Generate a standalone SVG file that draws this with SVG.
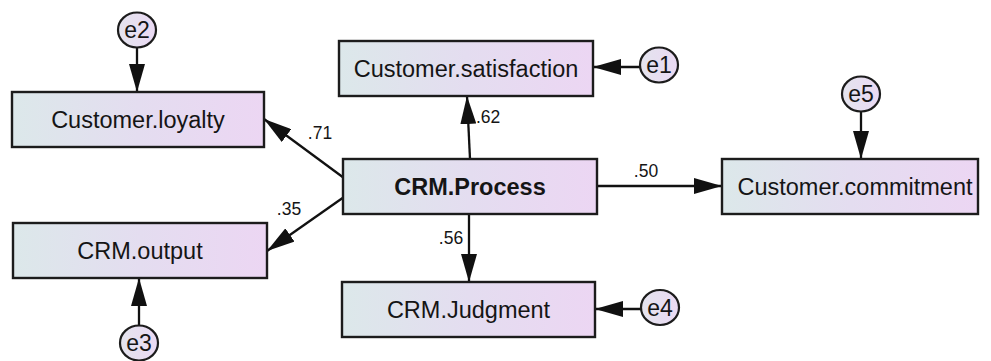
<svg xmlns="http://www.w3.org/2000/svg" width="991" height="361" viewBox="0 0 991 361">
  <defs>
    <linearGradient id="boxFill" x1="0" y1="0" x2="1" y2="0">
      <stop offset="0" stop-color="#dce8ea"/>
      <stop offset="0.5" stop-color="#e4ddf0"/>
      <stop offset="1" stop-color="#ecd6f3"/>
    </linearGradient>
    <linearGradient id="errFill" x1="0" y1="0" x2="1" y2="0">
      <stop offset="0" stop-color="#e4e4ee"/>
      <stop offset="1" stop-color="#ead9f3"/>
    </linearGradient>
    <marker id="head" viewBox="0 0 28 16" refX="28" refY="8" markerWidth="28" markerHeight="16" markerUnits="userSpaceOnUse" orient="auto">
      <path d="M0,0 L28,8 L0,16 Z" fill="#111"/>
    </marker>
  </defs>
  <style>
    .box { fill: url(#boxFill); stroke: #1c1c1c; stroke-width: 2.4; }
    .err { fill: url(#errFill); stroke: #1c1c1c; stroke-width: 2.2; }
    .lbl { font-family: "Liberation Sans", Arial, sans-serif; font-size: 23.5px; fill: #151515; text-anchor: middle; }
    .bold { font-weight: bold; }
    .elbl { font-family: "Liberation Sans", Arial, sans-serif; font-size: 23px; fill: #151515; text-anchor: middle; }
    .coef { font-family: "Liberation Sans", Arial, sans-serif; font-size: 17.5px; fill: #151515; }
    .edge { stroke: #111; stroke-width: 2.3; fill: none; marker-end: url(#head); }
  </style>
  <rect width="991" height="361" fill="#ffffff"/>

  <!-- paths and residual arrows -->
  <g id="connectors">
    <line class="edge" x1="137" y1="48" x2="137" y2="92"/>
    <line class="edge" x1="344" y1="178" x2="264" y2="119"/>
    <line class="edge" x1="344" y1="197" x2="267" y2="251"/>
    <line class="edge" x1="470" y1="159" x2="467" y2="96"/>
    <line class="edge" x1="469" y1="214" x2="469" y2="282"/>
    <line class="edge" x1="597" y1="186" x2="722" y2="186"/>
    <line class="edge" x1="640" y1="67" x2="593" y2="67"/>
    <line class="edge" x1="641" y1="309" x2="595" y2="309"/>
    <line class="edge" x1="861" y1="112" x2="861" y2="159"/>
    <line class="edge" x1="139" y1="325" x2="139" y2="278"/>
    <text class="coef" x="320" y="139" text-anchor="middle">.71</text>
    <text class="coef" x="289" y="215" text-anchor="middle">.35</text>
    <text class="coef" x="476" y="123">.62</text>
    <text class="coef" x="451" y="244" text-anchor="middle">.56</text>
    <text class="coef" x="646" y="177" text-anchor="middle">.50</text>
  </g>

  <g id="crm-process">
    <rect class="box" x="343" y="159" width="254" height="55"/>
    <text class="lbl bold" x="470" y="195">CRM.Process</text>
  </g>
  <g id="customer-loyalty">
    <rect class="box" x="12" y="92" width="252" height="55"/>
    <text class="lbl" x="138" y="128">Customer.loyalty</text>
  </g>
  <g id="crm-output">
    <rect class="box" x="13" y="223" width="254" height="55"/>
    <text class="lbl" x="140" y="259">CRM.output</text>
  </g>
  <g id="customer-satisfaction">
    <rect class="box" x="339" y="41" width="254" height="55"/>
    <text class="lbl" x="466" y="77">Customer.satisfaction</text>
  </g>
  <g id="crm-judgment">
    <rect class="box" x="342" y="282" width="253" height="55"/>
    <text class="lbl" x="468.5" y="318">CRM.Judgment</text>
  </g>
  <g id="customer-commitment">
    <rect class="box" x="722" y="159" width="256" height="55"/>
    <text class="lbl" x="855" y="195">Customer.commitment</text>
  </g>

  <g id="e1">
    <ellipse class="err" cx="659" cy="65" rx="19" ry="17.5"/>
    <text class="elbl" x="659" y="73">e1</text>
  </g>
  <g id="e2">
    <ellipse class="err" cx="137" cy="30" rx="19" ry="17.5"/>
    <text class="elbl" x="137" y="38">e2</text>
  </g>
  <g id="e3">
    <ellipse class="err" cx="139" cy="343" rx="19" ry="17.5"/>
    <text class="elbl" x="139" y="351">e3</text>
  </g>
  <g id="e4">
    <ellipse class="err" cx="660" cy="307.5" rx="19" ry="17.5"/>
    <text class="elbl" x="660" y="315.5">e4</text>
  </g>
  <g id="e5">
    <ellipse class="err" cx="861" cy="94" rx="19" ry="17.5"/>
    <text class="elbl" x="861" y="102">e5</text>
  </g>
</svg>
